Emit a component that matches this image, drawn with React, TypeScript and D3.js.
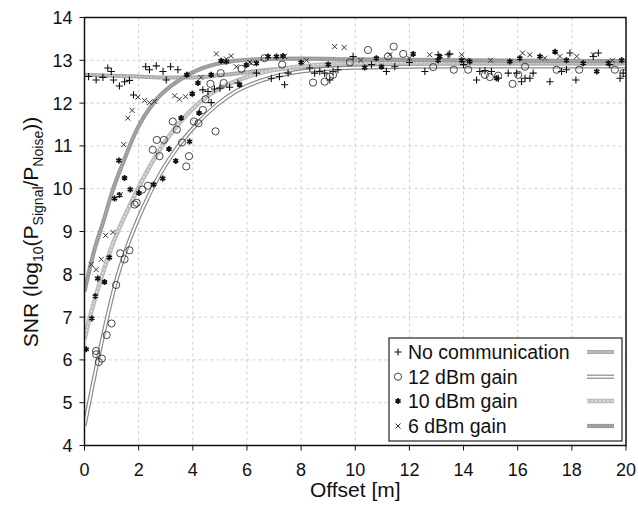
import React from "react";
import * as d3 from "d3";

// ---------- data ----------
const xTicks = [0, 2, 4, 6, 8, 10, 12, 14, 16, 18, 20];
const yTicks = [4, 5, 6, 7, 8, 9, 10, 11, 12, 13, 14];
const seriesNames = ["No communication", "12 dBm gain", "10 dBm gain", "6 dBm gain"];

const noCommPts: [number, number][] = [
  [0.15, 12.62], [0.43, 12.54], [0.68, 12.6], [0.86, 12.82], [0.99, 12.74], [1.07, 12.54], [1.29, 12.4],
  [1.48, 12.5], [1.66, 12.53], [1.81, 12.19], [2.26, 12.85], [2.4, 12.78], [2.65, 12.87], [2.9, 12.74],
  [3.02, 12.54], [3.18, 12.85], [3.45, 12.78], [4.37, 12.31], [4.56, 12.27], [4.68, 12.01], [4.8, 12.33],
  [5.0, 12.35], [5.36, 12.37], [5.67, 12.47], [6.35, 12.7], [6.9, 12.58], [7.2, 12.62], [7.39, 12.43],
  [7.52, 12.7], [8.32, 12.82], [8.5, 12.7], [8.69, 12.74], [8.87, 12.7], [9.06, 12.54], [9.18, 12.74],
  [9.36, 12.78], [9.92, 13.09], [10.6, 12.9], [11.15, 12.74], [11.46, 12.85], [12.0, 12.95], [12.57, 12.74],
  [13.06, 13.13], [13.43, 13.13], [13.49, 13.15], [14.0, 12.9], [14.48, 12.54], [14.6, 12.74], [14.79, 12.76],
  [15.03, 12.74], [15.28, 12.58], [15.65, 12.7], [15.96, 12.7], [16.14, 12.5], [16.27, 12.58], [16.45, 12.58],
  [16.57, 12.7], [17.19, 12.5], [17.62, 12.74], [17.8, 12.78], [17.93, 13.17], [18.15, 12.54], [18.79, 13.09],
  [18.98, 13.17], [19.4, 12.9], [19.78, 12.58], [19.9, 12.7],
];
const gain12Pts: [number, number][] = [
  [0.43, 6.21], [0.43, 6.13], [0.53, 5.95], [0.64, 6.03], [0.82, 6.58], [1.0, 6.85], [1.17, 7.75], [1.32, 8.49],
  [1.48, 8.35], [1.66, 8.56], [1.85, 9.63], [1.93, 9.67], [2.13, 9.98], [2.34, 10.07], [2.52, 10.91], [2.67, 11.14],
  [2.77, 10.76], [2.93, 11.14], [3.26, 11.57], [3.41, 11.38], [3.6, 11.08], [3.76, 10.52], [3.86, 10.76],
  [4.04, 11.57], [4.21, 11.53], [4.37, 11.84], [4.47, 12.09], [4.65, 12.45], [4.84, 11.34], [5.03, 12.7],
  [5.14, 12.47], [5.8, 12.8], [6.65, 13.05], [7.3, 12.9], [8.44, 12.48], [8.87, 12.5], [9.06, 12.62],
  [9.18, 12.66], [9.8, 12.95], [10.47, 13.24], [11.21, 13.09], [11.42, 13.32], [11.77, 13.15], [12.88, 12.84],
  [13.64, 12.78], [14.17, 12.78], [14.79, 12.66], [14.97, 12.61], [15.28, 12.64], [15.81, 12.45], [16.02, 12.66],
  [16.27, 12.85], [17.44, 12.78], [18.27, 12.78], [19.59, 12.78], [19.9, 12.7],
];
const gain10Pts: [number, number][] = [
  [0.06, 6.25], [0.27, 6.97], [0.4, 7.49], [0.49, 7.9], [0.74, 7.82], [0.92, 8.39], [1.11, 9.77], [1.27, 10.66],
  [1.29, 9.85], [1.48, 10.25], [1.69, 9.98], [2.01, 9.9], [2.55, 10.1], [2.89, 10.24], [3.12, 10.93],
  [3.37, 10.65], [3.57, 11.65], [3.88, 11.1], [3.98, 12.22], [3.78, 12.66], [4.19, 12.47], [4.23, 11.77],
  [4.68, 12.66], [5.05, 12.99], [5.24, 12.97], [5.73, 12.43], [5.98, 12.89], [6.35, 12.93], [6.78, 13.09],
  [7.09, 13.09], [7.33, 13.1], [8.0, 12.95], [9.0, 12.9], [10.35, 12.83], [10.78, 13.05], [10.97, 12.85],
  [12.14, 13.15], [13.06, 13.0], [13.12, 13.09], [13.93, 13.0], [14.23, 12.97], [15.22, 12.58], [15.71, 12.97],
  [16.08, 13.05], [16.82, 13.09], [17.38, 13.2], [17.8, 13.0], [18.42, 12.93], [18.92, 12.74], [19.35, 12.93],
  [19.84, 13.0],
];
const gain6Pts: [number, number][] = [
  [0.25, 8.23], [0.43, 8.11], [0.62, 8.35], [0.78, 8.91], [1.05, 8.98], [1.32, 9.86], [1.45, 11.03], [1.6, 11.65],
  [1.76, 11.83], [1.97, 12.14], [2.22, 12.06], [2.4, 12.01], [2.59, 12.04], [3.33, 12.17], [3.51, 12.09],
  [3.73, 12.15], [4.3, 12.6], [4.87, 13.15], [5.24, 13.03], [5.42, 13.1], [5.61, 12.85], [6.1, 12.95],
  [6.16, 12.93], [7.39, 13.09], [8.2, 13.0], [9.24, 13.32], [9.59, 13.3], [10.2, 13.0], [11.28, 13.13],
  [12.0, 13.05], [12.75, 13.13], [13.93, 13.13], [14.11, 13.0], [15.0, 13.0], [16.18, 13.17], [16.45, 13.13],
  [17.0, 13.05], [17.56, 13.09], [18.18, 13.09], [18.79, 13.13], [19.5, 13.0],
];

// fitted curves
const noCommFit: [number, number][] = [
  [0, 12.66], [1, 12.64], [2, 12.62], [3, 12.6], [4, 12.6], [5, 12.65], [6, 12.72], [7, 12.79], [8, 12.84],
  [10, 12.9], [12, 12.92], [16, 12.93], [20, 12.93],
];
const gain12Fit: [number, number][] = [
  [0, 4.46], [0.68, 6.55], [1.17, 7.85], [1.54, 8.58], [2.16, 9.55], [2.77, 10.32], [3.39, 10.93], [4.13, 11.5],
  [4.87, 11.95], [5.61, 12.28], [6.59, 12.54], [8, 12.74], [10, 12.83], [14, 12.86], [20, 12.86],
];
const gain10Fit: [number, number][] = [
  [0, 6.48], [0.18, 6.95], [0.68, 8.04], [1.05, 8.72], [1.66, 9.59], [2.28, 10.37], [2.89, 11.02], [3.76, 11.72],
  [4.62, 12.2], [5.61, 12.52], [6.59, 12.72], [8, 12.86], [10, 12.93], [14, 12.95], [20, 12.95],
];
const gain6Fit: [number, number][] = [
  [0, 7.6], [0.37, 8.58], [0.68, 9.2], [1.05, 9.98], [1.42, 10.6], [1.91, 11.35], [2.65, 12.08], [3.51, 12.54],
  [4.37, 12.82], [5.36, 12.97], [6.59, 13.03], [8, 13.04], [10, 13.02], [14, 13.0], [20, 12.98],
];

// ---------- layout ----------
const W = 638;
const H = 505;
const L = 84.5;
const R = 626;
const T = 17.5;
const B = 445.5;
const FONT = "'Liberation Sans', Arial, sans-serif";

const xS = d3.scaleLinear().domain([0, 20]).range([L, R]);
const yS = d3.scaleLinear().domain([4, 14]).range([B, T]);

type Marker = "plus" | "circle" | "star" | "times";

function markerPath(kind: Marker): string {
  if (kind === "plus") return "M-3.6,0H3.6M0,-3.6V3.6";
  if (kind === "times") return "M-2.5,-2.5L2.5,2.5M-2.5,2.5L2.5,-2.5";
  if (kind === "star") {
    const r = 3;
    let p = "";
    [90, 30, 150].forEach((a) => {
      const rad = (a * Math.PI) / 180;
      const dx = r * Math.cos(rad);
      const dy = r * Math.sin(rad);
      p += `M${-dx},${-dy}L${dx},${dy}`;
    });
    return p;
  }
  return "";
}

function MarkerShape({ kind, cx, cy }: { kind: Marker; cx: number; cy: number }) {
  if (kind === "circle")
    return <circle cx={cx} cy={cy} r={3.6} fill="none" stroke="#333" strokeWidth={0.9} />;
  const sw = kind === "star" ? 1.7 : kind === "plus" ? 1.1 : 1;
  const col = kind === "times" ? "#333" : "#111";
  return <path d={markerPath(kind)} transform={`translate(${cx},${cy})`} stroke={col} strokeWidth={sw} fill="none" />;
}

type LineStyle = { base: string; bw: number; over: string; ow: number; dash?: string };
const lineStyles: LineStyle[] = [
  { base: "#a9a9a9", bw: 4, over: "#d4d4d4", ow: 1.3, dash: "1.5 1.5" },
  { base: "#8a8a8a", bw: 4.2, over: "#ffffff", ow: 1.8 },
  { base: "#bdbdbd", bw: 4.6, over: "#e4e4e4", ow: 1.4, dash: "2 2" },
  { base: "#9a9a9a", bw: 4.2, over: "#b8b8b8", ow: 1.3, dash: "1 1.5" },
];
const markers: Marker[] = ["plus", "circle", "star", "times"];
const pointSets = [noCommPts, gain12Pts, gain10Pts, gain6Pts];
const fitSets = [noCommFit, gain12Fit, gain10Fit, gain6Fit];

const lineGen = d3
  .line<[number, number]>()
  .x((d) => xS(d[0]))
  .y((d) => yS(d[1]))
  .curve(d3.curveMonotoneX);

export default function App() {
  const legX = 389;
  const legY = 338;
  const legW = 233;
  const legH = 103;
  const rowY = [352, 376.7, 401, 426];

  return (
    <svg
      width={W}
      height={H}
      style={{ position: "absolute", left: 0, top: 0, background: "#fff" }}
      fontFamily={FONT}
    >
      <defs>
        <clipPath id="plotClip">
          <rect x={L} y={T} width={R - L} height={B - T} />
        </clipPath>
      </defs>
      <rect x={0} y={0} width={W} height={H} fill="#fff" />

      {/* grid */}
      <g stroke="#cfcfcf" strokeWidth={1} strokeDasharray="3 3">
        {xTicks.slice(1, -1).map((t) => (
          <line key={"gx" + t} x1={xS(t)} x2={xS(t)} y1={T} y2={B} />
        ))}
        {yTicks.slice(1, -1).map((t) => (
          <line key={"gy" + t} x1={L} x2={R} y1={yS(t)} y2={yS(t)} />
        ))}
      </g>

      {/* fitted curves */}
      <g clipPath="url(#plotClip)" fill="none">
        {fitSets.map((f, i) => {
          const s = lineStyles[i];
          const d = lineGen(f) || "";
          return (
            <g key={"fit" + i}>
              <path d={d} stroke={s.base} strokeWidth={s.bw} />
              <path d={d} stroke={s.over} strokeWidth={s.ow} strokeDasharray={s.dash} />
            </g>
          );
        })}
      </g>

      {/* points */}
      <g clipPath="url(#plotClip)">
        {pointSets.map((pts, i) =>
          pts.map((p, j) => <MarkerShape key={`p${i}-${j}`} kind={markers[i]} cx={xS(p[0])} cy={yS(p[1])} />)
        )}
      </g>

      {/* legend */}
      <rect x={legX} y={legY} width={legW} height={legH} fill="#fff" stroke="#333" strokeWidth={1.3} />
      {seriesNames.map((name, i) => {
        const s = lineStyles[i];
        return (
          <g key={"leg" + i}>
            <MarkerShape kind={markers[i]} cx={398} cy={rowY[i]} />
            <text x={408} y={rowY[i] + 7} fontSize={19.5} fill="#111">
              {name}
            </text>
            <line x1={587} x2={614} y1={rowY[i]} y2={rowY[i]} stroke={s.base} strokeWidth={s.bw} />
            <line
              x1={587}
              x2={614}
              y1={rowY[i]}
              y2={rowY[i]}
              stroke={s.over}
              strokeWidth={s.ow}
              strokeDasharray={s.dash}
            />
          </g>
        );
      })}

      {/* frame */}
      <rect x={L} y={T} width={R - L} height={B - T} fill="none" stroke="#111" strokeWidth={1.5} />

      {/* x axis ticks */}
      {xTicks.map((t) => (
        <g key={"xt" + t}>
          <line x1={xS(t)} x2={xS(t)} y1={B} y2={B + 5} stroke="#111" strokeWidth={1} />
          <text x={xS(t)} y={B + 30} fontSize={18} textAnchor="middle" fill="#111">
            {t}
          </text>
        </g>
      ))}
      {/* y axis ticks */}
      {yTicks.map((t) => (
        <g key={"yt" + t}>
          <line x1={L - 5} x2={L} y1={yS(t)} y2={yS(t)} stroke="#111" strokeWidth={1} />
          <text x={L - 12} y={yS(t) + 6.5} fontSize={18} textAnchor="end" fill="#111">
            {t}
          </text>
        </g>
      ))}

      {/* axis titles */}
      <text x={(L + R) / 2} y={497} fontSize={21} textAnchor="middle" fill="#111">
        Offset [m]
      </text>
      <text transform={`translate(38,${232}) rotate(-90)`} fontSize={21} textAnchor="middle" fill="#111">
        SNR (log
        <tspan fontSize={14} dy={5}>
          10
        </tspan>
        <tspan dy={-5}>(P</tspan>
        <tspan fontSize={14} dy={5}>
          Signal
        </tspan>
        <tspan dy={-5}>/P</tspan>
        <tspan fontSize={14} dy={5}>
          Noise
        </tspan>
        <tspan dy={-5}>))</tspan>
      </text>
    </svg>
  );
}
